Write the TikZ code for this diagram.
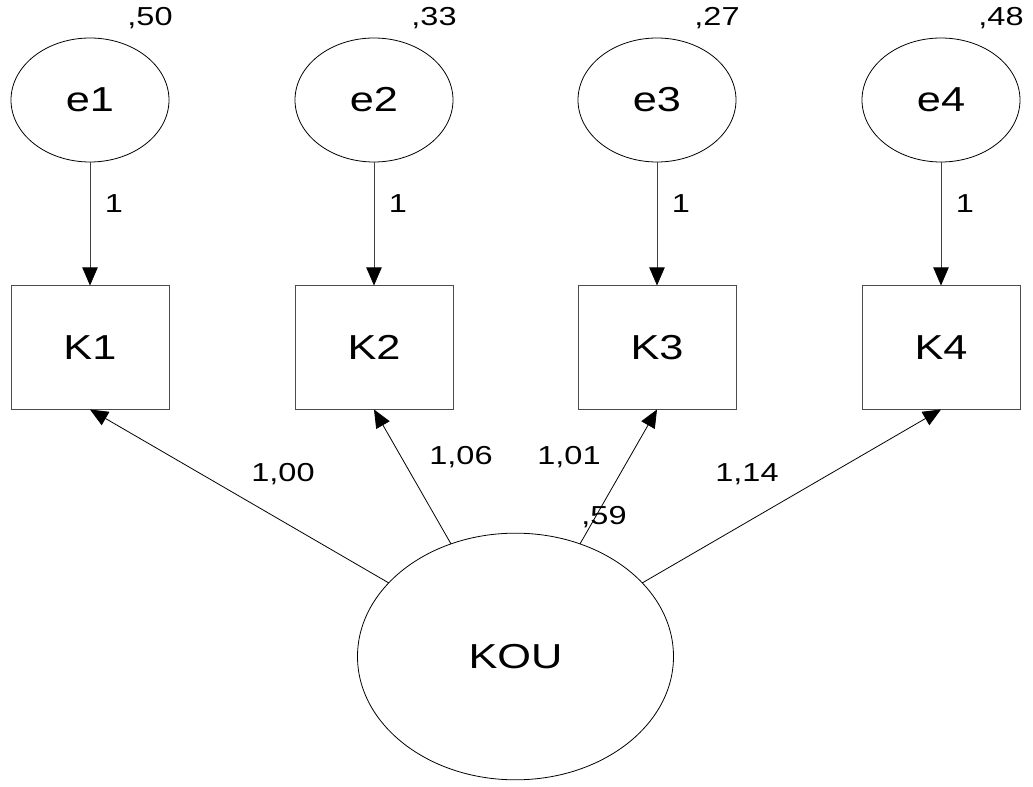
\documentclass[tikz,border=0pt]{standalone}
\usepackage{fontspec}
\setmainfont[FakeStretch=1.25]{Liberation Sans}
\usetikzlibrary{shapes.geometric,arrows.meta}

\begin{document}
\begin{tikzpicture}[x=0.75pt,y=-0.75pt,
  obsbox/.style={draw=black!70, line width=0.75pt, minimum width=118.5pt,
    minimum height=93pt, inner sep=0pt, outer sep=0pt,
    font=\fontsize{26}{30}\selectfont},
  errnode/.style={ellipse, draw, line width=0.6pt, minimum width=118.5pt,
    minimum height=93pt, inner sep=0pt, outer sep=0pt,
    font=\fontsize{26}{30}\selectfont},
  latnode/.style={ellipse, draw, line width=0.6pt, minimum width=237pt,
    minimum height=185pt, inner sep=0pt, outer sep=0pt,
    font=\fontsize{26}{30}\selectfont},
  lbl/.style={anchor=base, inner sep=0pt, font=\fontsize{19.5}{22}\selectfont},
  pathline/.style={-{Triangle[length=13.5pt,width=11.5pt,black]}, line width=0.6pt},
  errline/.style={pathline, draw=black!75}
]
\useasboundingbox (0,0) rectangle (1033,787);

% error terms
\node[errnode] (e1) at (90,100)  {e1};
\node[errnode] (e2) at (374,100) {e2};
\node[errnode] (e3) at (657,100) {e3};
\node[errnode] (e4) at (941,100) {e4};

% observed indicators
\node[obsbox] (K1) at (90,347.5)  {K1};
\node[obsbox] (K2) at (374,347.5) {K2};
\node[obsbox] (K3) at (657,347.5) {K3};
\node[obsbox] (K4) at (941,347.5) {K4};

% latent factor
\node[latnode] (KOU) at (515.5,656.5) {KOU};

% error paths
\draw[errline] (e1) -- (K1);
\draw[errline] (e2) -- (K2);
\draw[errline] (e3) -- (K3);
\draw[errline] (e4) -- (K4);

% loadings
\draw[pathline] (KOU) -- (K1.south);
\draw[pathline] (KOU) -- (K2.south);
\draw[pathline] (KOU) -- (K3.south);
\draw[pathline] (KOU) -- (K4.south);

% variances
\node[lbl] (v1) at (150,26) {,50};
\node[lbl] (v2) at (434,26) {,33};
\node[lbl] (v3) at (717,26) {,27};
\node[lbl] (v4) at (1001,26) {,48};
\node[lbl] (vK) at (604,525) {,59};

% fixed error weights
\node[lbl] (w1) at (114,213) {1};
\node[lbl] (w2) at (398,213) {1};
\node[lbl] (w3) at (681,213) {1};
\node[lbl] (w4) at (965,213) {1};

% loading estimates
\node[lbl] (l1) at (283,482) {1,00};
\node[lbl] (l2) at (461,465) {1,06};
\node[lbl] (l3) at (569,465) {1,01};
\node[lbl] (l4) at (747,482) {1,14};
\end{tikzpicture}
\end{document}
